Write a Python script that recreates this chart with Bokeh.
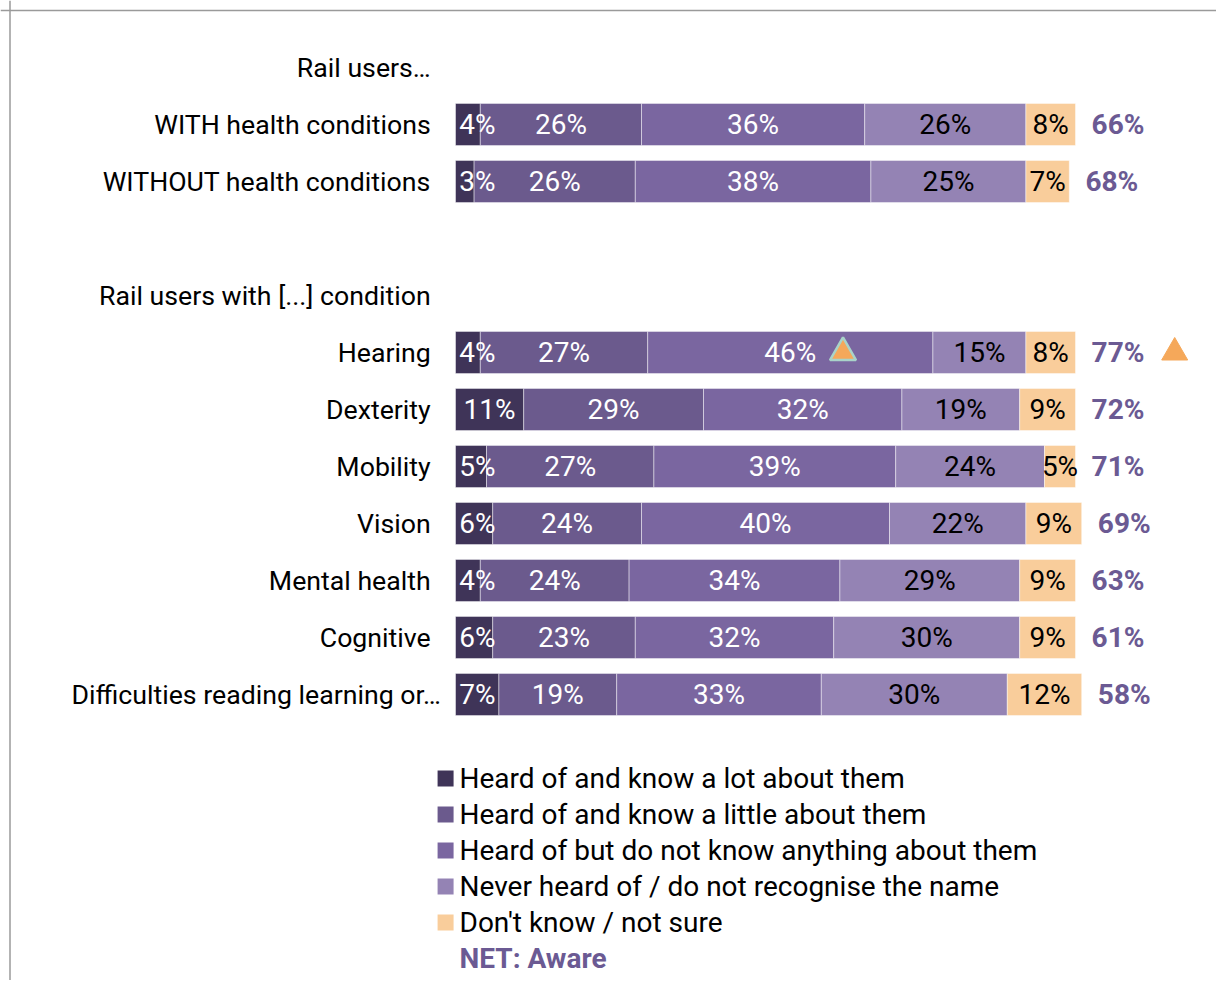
import numpy as np
from bokeh.plotting import figure
from bokeh.models import ColumnDataSource, Range1d, Span
from bokeh.core.properties import value
from bokeh.embed import file_html
from bokeh.resources import INLINE

# ---------------- data ----------------
headers = ["Rail users…", "Rail users with [...] condition"]
categories = ["WITH health conditions", "WITHOUT health conditions",
              "Hearing", "Dexterity", "Mobility", "Vision", "Mental health",
              "Cognitive", "Difficulties  reading learning or…"]
series_names = ["Heard of and know a lot about them",
                "Heard of and know a little about them",
                "Heard of but do not know anything about them",
                "Never heard of / do not recognise the name",
                "Don't know / not sure"]
know_lot = [4, 3, 4, 11, 5, 6, 4, 6, 7]
know_little = [26, 26, 27, 29, 27, 24, 24, 23, 19]
know_nothing = [36, 38, 46, 32, 39, 40, 34, 32, 33]
never_heard = [26, 25, 15, 19, 24, 22, 29, 30, 30]
dont_know = [8, 7, 8, 9, 5, 9, 9, 9, 12]
net_aware = [66, 68, 77, 72, 71, 69, 63, 61, 58]
net_label = "NET: Aware"
flagged = ["Hearing"]  # rows with significance triangles

# ---------------- styling / layout ----------------
colors = ["#3f3458", "#6b5a8d", "#7a66a0", "#9483b4", "#f9cd9b"]
text_colors = ["white", "white", "white", "black", "black"]
NET_COLOR = "#6b5a93"
FONT = "Roboto"
FS_CAT = "26.7px"
FS_BAR = "28px"
FS_LEG = "28px"

W, H = 1216, 980
PX = 6.2          # pixels per percent
X0 = 455          # canvas px of 0%
ROWPX = 57        # pixels per row unit
Y0 = 67           # canvas px of row 0

header_rows = [0, 4]
cat_rows = [1, 2, 5, 6, 7, 8, 9, 10, 11]

p = figure(width=W, height=H,
           x_range=Range1d(-X0 / PX, (W - X0) / PX),
           y_range=Range1d((H - Y0) / ROWPX, -Y0 / ROWPX),
           x_axis_type=None, y_axis_type=None,
           output_backend="svg", toolbar_location=None,
           min_border=0, outline_line_color=None)
p.grid.visible = False
p.background_fill_color = "white"
p.border_fill_color = "white"

# frame border lines (left and top)
p.add_layout(Span(location=(9.5 - X0) / PX, dimension="height",
                  line_color="#9a9a9a", line_width=1.5))
p.add_layout(Span(location=(10 - Y0) / ROWPX, dimension="width",
                  line_color="#9a9a9a", line_width=1.5))

# stacked bars
stack = np.array([know_lot, know_little, know_nothing, never_heard, dont_know], dtype=float)
lefts = np.vstack([np.zeros(stack.shape[1]), np.cumsum(stack, axis=0)[:-1]])
rights = lefts + stack
totals = rights[-1]

for k in range(stack.shape[0]):
    src = ColumnDataSource(dict(y=cat_rows, left=lefts[k], right=rights[k]))
    p.hbar(y="y", left="left", right="right", height=0.74, source=src,
           fill_color=colors[k], line_color="white", line_alpha=0.45, line_width=1)

for k in range(stack.shape[0]):
    xs, aligns = [], []
    for i in range(stack.shape[1]):
        v = stack[k, i]
        if k == 0 and v < 10:
            xs.append(lefts[k, i] + 0.6)
            aligns.append("left")
        else:
            xs.append((lefts[k, i] + rights[k, i]) / 2)
            aligns.append("center")
    lsrc = ColumnDataSource(dict(x=xs, y=cat_rows, align=aligns,
                                 t=[f"{int(v)}%" for v in stack[k]]))
    p.text(x="x", y="y", text="t", source=lsrc, text_align="align",
           text_baseline="middle", text_font=value(FONT), text_font_size=FS_BAR,
           text_color=text_colors[k])

# NET labels
p.text(x=list(totals + 2.6), y=cat_rows, text=[f"{v}%" for v in net_aware],
       text_align="left", text_baseline="middle", text_font=value(FONT),
       text_font_size=FS_BAR, text_font_style="bold", text_color=NET_COLOR)

# category labels and headers (truncated long label overhangs slightly)
cat_x = [-1.3 if (c.endswith("…") and len(c) > 25) else -4.0 for c in categories]
p.text(x=cat_x, y=cat_rows, text=categories,
       text_align="right", text_baseline="middle", text_font=value(FONT),
       text_font_size=FS_CAT, text_color="black")
p.text(x=[-4.0] * len(headers), y=header_rows, text=headers,
       text_align="right", text_baseline="middle", text_font=value(FONT),
       text_font_size=FS_CAT, text_color="black")

# significance triangles
fi = [categories.index(c) for c in flagged]
p.scatter(x=[(lefts[2, i] + rights[2, i]) / 2 + 8.5 for i in fi],
          y=[cat_rows[i] for i in fi], marker="triangle", size=26,
          fill_color="#f5a85a", line_color="#a9d3c9", line_width=2.5)
p.scatter(x=[totals[i] + 16.0 for i in fi], y=[cat_rows[i] for i in fi],
          marker="triangle", size=26, fill_color="#f5a85a", line_color="#f5a85a")

# legend (manual)
leg_y0 = (778 - Y0) / ROWPX
leg_dy = 36 / ROWPX
leg_ys = [leg_y0 + i * leg_dy for i in range(len(series_names))]
p.scatter(x=[-1.6] * len(series_names), y=leg_ys, marker="square", size=16,
          fill_color=colors, line_color=None)
p.text(x=[0.65] * len(series_names), y=leg_ys, text=series_names,
       text_align="left", text_baseline="middle", text_font=value(FONT),
       text_font_size=FS_LEG, text_color="black")
p.text(x=[0.65], y=[leg_y0 + len(series_names) * leg_dy], text=[net_label],
       text_align="left", text_baseline="middle", text_font=value(FONT),
       text_font_size=FS_LEG, text_font_style="bold", text_color=NET_COLOR)

open("out.html", "w").write(file_html(p, INLINE))
